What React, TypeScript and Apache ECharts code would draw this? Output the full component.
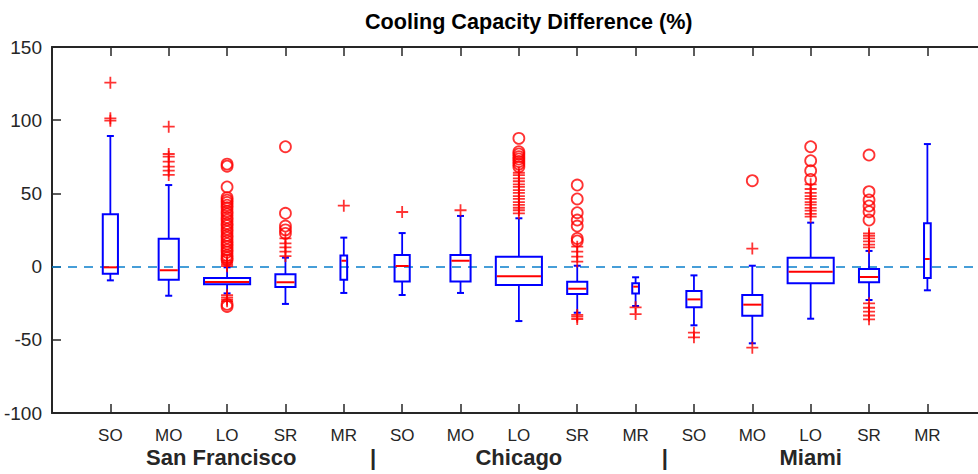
import React, { useEffect, useRef } from "react";
import * as echarts from "echarts";

// ---------------- DATA ----------------
const categories = ["SO", "MO", "LO", "SR", "MR", "SO", "MO", "LO", "SR", "MR", "SO", "MO", "LO", "SR", "MR"];
const groupLabels = ["San Francisco", "Chicago", "Miami"];
const yTicks = [-100, -50, 0, 50, 100, 150];

const lowerWhisker = [-9.4, -19.9, -18.3, -25.5, -18.0, -19.4, -18.0, -37.2, -31.5, -26.9, -40.1, -52.4, -35.6, -22.8, -16.2];
const q1 = [-4.8, -8.9, -12.1, -13.9, -8.9, -10.1, -10.1, -12.6, -18.7, -18.3, -27.8, -33.5, -11.4, -10.7, -7.8];
const median = [-0.5, -2.5, -10.5, -10.7, 4.0, 0.4, 4.0, -6.6, -15.1, -13.7, -22.4, -26.0, -3.5, -7.1, 5.2];
const q3 = [35.7, 19.1, -7.8, -5.3, 7.5, 7.9, 7.9, 6.8, -10.3, -11.4, -16.7, -19.4, 6.1, -1.6, 29.6];
const upperWhisker = [89.2, 55.7, -0.5, 6.1, 19.8, 22.9, 34.6, 33.0, 0.6, -7.3, -6.0, 0.6, 30.0, 10.7, 83.7];

// "+" outliers
const mildOutliers: number[][] = [
  [125.6, 101.3, 99.7],
  [95.6, 76.9, 75.1, 71.7, 68.3, 65.5, 62.6],
  [0.3, 1.4, 2.6, 3.9, -19.5, -21.0, -22.4, -23.6],
  [7.2, 10.2, 13.2, 15.9, 19.3],
  [41.6],
  [37.3],
  [38.5],
  [36.4, 38.5, 40.2, 42.1, 44.0, 46.3, 48.1, 50.4, 52.2, 54.5, 56.1, 58.3, 60.2, 62.5, 64.1],
  [3.4, 6.8, 10.2, 13.6, -33.0, -34.2, -35.8],
  [-27.8, -32.4],
  [-45.1, -48.3],
  [12.3, -55.4],
  [34.1, 36.0, 38.2, 40.1, 42.3, 44.0, 46.2, 48.1, 50.3, 53.0, 56.2],
  [13.1, 15.0, 17.2, 19.3, 21.0, 22.6, -25.1, -28.1, -30.8, -33.4, -36.0],
  [],
];

// "o" outliers
const extremeOutliers: number[][] = [
  [],
  [],
  [70.0, 68.6, 54.4, 47.1, 45.4, 43.8, 41.9, 40.2, 37.7, 35.9, 33.6, 31.8, 29.5, 27.9, 25.6, 23.8, 21.4, 19.7, 17.5, 15.6, 13.8, 11.6, 9.9, 7.7, 6.1, 4.6, -25.8, -27.2],
  [22.7, 25.1, 27.7, 36.4, 81.9],
  [],
  [],
  [],
  [68.2, 70.0, 71.8, 73.5, 75.1, 76.9, 78.5, 87.6],
  [17.5, 19.2, 27.7, 31.8, 36.8, 46.2, 55.7],
  [],
  [],
  [58.7],
  [59.5, 65.5, 72.3, 81.9],
  [31.8, 37.5, 41.4, 45.5, 51.2, 76.2],
  [],
];

// ---------------- STYLE ----------------
const FONT = "'Liberation Sans', Arial, Helvetica, sans-serif";
const AXIS_COLOR = "#262626";
const BOX_COLOR = "#0000ff";
const MED_COLOR = "#ff0000";
const BOX_WIDTH: Record<string, number> = { SO: 0.26, MO: 0.345, LO: 0.79, SR: 0.345, MR: 0.115 };
const CAP_HALF = 3.5;
const X_MAX = 15.97;

export default function App() {
  const ref = useRef<HTMLDivElement>(null);

  useEffect(() => {
    if (!ref.current) return;
    const chart = echarts.init(ref.current, null, { renderer: "svg" });

    const boxData = categories.map((_, i) => [i + 1, lowerWhisker[i], q1[i], median[i], q3[i], upperWhisker[i]]);
    const mildData: number[][] = [];
    const extremeData: number[][] = [];
    mildOutliers.forEach((arr, i) => arr.forEach((v) => mildData.push([i + 1, v])));
    extremeOutliers.forEach((arr, i) => arr.forEach((v) => extremeData.push([i + 1, v])));

    const groupAt: Record<string, string> = {
      "2.9": groupLabels[0],
      "5.5": "|",
      "8": groupLabels[1],
      "10.5": "|",
      "13": groupLabels[2],
    };

    const axisLineStyle = { show: true, onZero: false, lineStyle: { color: AXIS_COLOR, width: 2 } };
    const tickStyle = { show: true, inside: true, length: 9, lineStyle: { color: AXIS_COLOR, width: 1.5 } };

    const option: any = {
      animation: false,
      backgroundColor: "#ffffff",
      title: {
        text: "Cooling Capacity Difference (%)",
        left: 365,
        top: 10,
        padding: 0,
        textStyle: { fontFamily: FONT, fontSize: 21.6, fontWeight: "bold", color: "#000000" },
      },
      grid: { left: 52, right: -6, top: 47, bottom: 61, containLabel: false, outerBoundsMode: "none" },
      xAxis: [
        {
          type: "value",
          min: 0,
          max: X_MAX,
          interval: 1,
          position: "bottom",
          splitLine: { show: false },
          axisLine: axisLineStyle,
          axisTick: tickStyle,
          axisLabel: {
            margin: 14,
            fontFamily: FONT,
            fontSize: 17,
            color: AXIS_COLOR,
            formatter: (v: number) => {
              const r = Math.round(v);
              if (Math.abs(v - r) > 1e-6 || r < 1 || r > categories.length) return "";
              return categories[r - 1];
            },
          },
        },
        {
          type: "value",
          min: 0,
          max: X_MAX,
          interval: 1,
          position: "top",
          splitLine: { show: false },
          axisLine: axisLineStyle,
          axisTick: tickStyle,
          axisLabel: { show: false },
        },
        {
          type: "value",
          min: 0,
          max: X_MAX,
          interval: 0.1,
          position: "bottom",
          splitLine: { show: false },
          axisLine: { show: false, onZero: false },
          axisTick: { show: false },
          axisLabel: {
            margin: 33,
            fontFamily: FONT,
            fontSize: 22,
            fontWeight: "bold",
            color: AXIS_COLOR,
            formatter: (v: number) => groupAt[String(Math.round(v * 10) / 10)] || "",
          },
        },
      ],
      yAxis: [
        {
          type: "value",
          min: -100,
          max: 150,
          interval: 50,
          splitLine: { show: false },
          axisLine: axisLineStyle,
          axisTick: tickStyle,
          axisLabel: {
            margin: 10,
            fontFamily: FONT,
            fontSize: 19,
            color: AXIS_COLOR,
            formatter: (v: number) => (yTicks.indexOf(v) >= 0 ? String(v) : ""),
          },
        },
      ],
      series: [
        {
          type: "custom",
          xAxisIndex: 0,
          yAxisIndex: 0,
          data: boxData,
          encode: { x: 0, y: [1, 2, 3, 4, 5] },
          z: 3,
          renderItem: (params: any, api: any) => {
            const xi = api.value(0);
            const cat = categories[xi - 1];
            const halfW = api.size([BOX_WIDTH[cat], 0])[0] / 2;
            const pLw = api.coord([xi, api.value(1)]);
            const pQ1 = api.coord([xi, api.value(2)]);
            const pMed = api.coord([xi, api.value(3)]);
            const pQ3 = api.coord([xi, api.value(4)]);
            const pUw = api.coord([xi, api.value(5)]);
            const x = pQ1[0];
            const blue = { stroke: BOX_COLOR, lineWidth: 2, fill: "none" };
            return {
              type: "group",
              children: [
                { type: "line", shape: { x1: x, y1: pQ3[1], x2: x, y2: pUw[1] }, style: { ...blue, lineWidth: 1.8 } },
                { type: "line", shape: { x1: x, y1: pQ1[1], x2: x, y2: pLw[1] }, style: { ...blue, lineWidth: 1.8 } },
                { type: "line", shape: { x1: x - CAP_HALF, y1: pUw[1], x2: x + CAP_HALF, y2: pUw[1] }, style: { ...blue } },
                { type: "line", shape: { x1: x - CAP_HALF, y1: pLw[1], x2: x + CAP_HALF, y2: pLw[1] }, style: { ...blue } },
                {
                  type: "rect",
                  shape: { x: x - halfW, y: pQ3[1], width: halfW * 2, height: pQ1[1] - pQ3[1] },
                  style: { ...blue },
                },
                {
                  type: "line",
                  shape: { x1: x - halfW + 1, y1: pMed[1], x2: x + halfW - 1, y2: pMed[1] },
                  style: { stroke: MED_COLOR, lineWidth: 2 },
                },
              ],
            };
          },
          markLine: {
            silent: true,
            symbol: "none",
            label: { show: false },
            lineStyle: { color: "#0a7fcc", width: 1.6, type: [9, 7] },
            data: [{ yAxis: 0 }],
            z: 1,
          },
        },
        {
          type: "scatter",
          xAxisIndex: 0,
          yAxisIndex: 0,
          data: mildData,
          symbol: "path://M0,-5L0,5M-5,0L5,0",
          symbolSize: 12,
          itemStyle: { color: "transparent", borderColor: MED_COLOR, borderWidth: 1.8 },
          z: 4,
        },
        {
          type: "scatter",
          xAxisIndex: 0,
          yAxisIndex: 0,
          data: extremeData,
          symbol: "circle",
          symbolSize: 11,
          itemStyle: { color: "transparent", borderColor: MED_COLOR, borderWidth: 1.8 },
          z: 4,
        },
      ],
    };

    chart.setOption(option);
    return () => chart.dispose();
  }, []);

  return (
    <div
      ref={ref}
      style={{ position: "fixed", left: 0, top: 0, width: 978, height: 474, background: "#fff" }}
    />
  );
}
